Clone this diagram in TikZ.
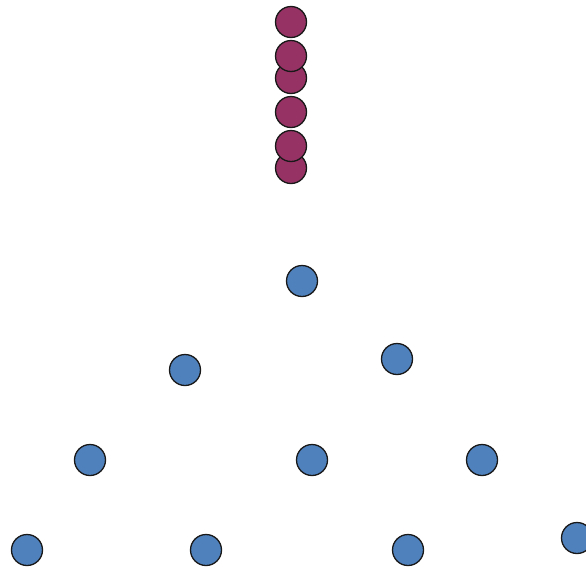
\documentclass[tikz,border=0pt]{standalone}
\usepackage{tikz}
\usetikzlibrary{positioning}

\definecolor{plum}{RGB}{150,50,100}
\definecolor{steel}{RGB}{79,129,189}

\begin{document}
\begin{tikzpicture}[
        x=1pt, y=-1pt,
        dot/.style={circle, draw=black!90, line width=1.3pt, inner sep=0pt, minimum size=31pt},
        stackdot/.style={dot, fill=plum},
        treedot/.style={dot, fill=steel}
    ]

    \useasboundingbox (0,0) rectangle (586,568);

    % stacked column, bottom one first
    \node[stackdot] (s6) at (291,168) {};
    \node[stackdot] (s5) at (291,146) {};
    \node[stackdot] (s4) at (291,112) {};
    \node[stackdot] (s3) at (291,78) {};
    \node[stackdot] (s2) at (291,56) {};
    \node[stackdot] (s1) at (291,22) {};

    % scattered points
    \node[treedot] (t1) at (302,281) {};
    \node[treedot] (t2) at (185,370) {};
    \node[treedot] (t3) at (397,359) {};
    \node[treedot] (t4) at (90,460) {};
    \node[treedot] (t5) at (312,460) {};
    \node[treedot] (t6) at (482,460) {};
    \node[treedot] (t7) at (27,550) {};
    \node[treedot] (t8) at (206,550) {};
    \node[treedot] (t9) at (408,550) {};
    \node[treedot] (t10) at (577,538) {};

\end{tikzpicture}
\end{document}
